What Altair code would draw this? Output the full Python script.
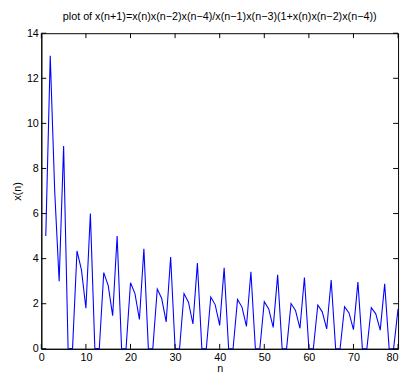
import altair as alt
import pandas as pd

n_vals = list(range(1, 81))
x_vals = [
    5, 13, 7, 3, 9, 0.026,
    0.008, 4.34, 3.50, 1.80, 6.00, 0.018,
    0.006, 3.38, 2.80, 1.47, 5.00, 0.015,
    0.005, 2.93, 2.45, 1.30, 4.44, 0.014,
    0.005, 2.65, 2.23, 1.19, 4.07, 0.013,
    0.004, 2.45, 2.07, 1.10, 3.80, 0.012,
    0.004, 2.30, 1.95, 1.04, 3.59, 0.011,
    0.004, 2.19, 1.85, 0.99, 3.42, 0.011,
    0.004, 2.09, 1.77, 0.95, 3.28, 0.010,
    0.003, 2.01, 1.70, 0.91, 3.16, 0.010,
    0.003, 1.94, 1.64, 0.88, 3.05, 0.010,
    0.003, 1.87, 1.59, 0.85, 2.96, 0.009,
    0.003, 1.82, 1.55, 0.83, 2.88, 0.009,
    0.003, 1.77,
]
x_ticks = [0, 10, 20, 30, 40, 50, 60, 70, 80]
y_ticks = [0, 2, 4, 6, 8, 10, 12, 14]

W, H = 364, 322
FONT = "Liberation Sans"

df = pd.DataFrame({"n": n_vals, "x": x_vals})
xt = pd.DataFrame({"t": x_ticks})
yt = pd.DataFrame({"t": y_ticks})

xscale = alt.Scale(domain=[0, 80], nice=False, zero=False)
yscale = alt.Scale(domain=[0, 14], nice=False, zero=False)

line = alt.Chart(df).mark_line(color="#0000FF", strokeWidth=1.1).encode(
    x=alt.X("n:Q", scale=xscale, title="n",
            axis=alt.Axis(values=x_ticks, tickSize=0, labelPadding=3, grid=False,
                          labelFlush=False, labelOverlap=False,
                          labelAlign=alt.expr("datum.value == 80 ? 'right' : 'center'"),
                          domain=True, domainColor="black", labelColor="black",
                          labelFont=FONT, labelFontSize=11, titleFont=FONT,
                          titleFontSize=11, titleFontWeight="normal", titlePadding=0,
                          titleColor="black")),
    y=alt.Y("x:Q", scale=yscale, title="x(n)",
            axis=alt.Axis(values=y_ticks, tickSize=0, labelPadding=3, grid=False,
                          labelFlush=False, labelOverlap=False,
                          domain=True, domainColor="black", labelColor="black",
                          labelFont=FONT, labelFontSize=11, titleFont=FONT,
                          titleFontSize=11, titleFontWeight="normal", titlePadding=4,
                          titleColor="black")),
)

tl = 5
xb = alt.Chart(xt).mark_rule(color="black", strokeWidth=1).encode(
    x=alt.X("t:Q", scale=xscale), y=alt.value(H), y2=alt.value(H - tl))
xtop = alt.Chart(xt).mark_rule(color="black", strokeWidth=1).encode(
    x=alt.X("t:Q", scale=xscale), y=alt.value(0), y2=alt.value(tl))
yl = alt.Chart(yt).mark_rule(color="black", strokeWidth=1).encode(
    y=alt.Y("t:Q", scale=yscale), x=alt.value(0), x2=alt.value(tl))
yr = alt.Chart(yt).mark_rule(color="black", strokeWidth=1).encode(
    y=alt.Y("t:Q", scale=yscale), x=alt.value(W), x2=alt.value(W - tl))

chart = alt.layer(line, xb, xtop, yl, yr).properties(
    width=W, height=H,
    title=alt.TitleParams(
        "plot of x(n+1)=x(n)x(n\u22122)x(n\u22124)/x(n\u22121)x(n\u22123)(1+x(n)x(n\u22122)x(n\u22124))",
        font=FONT, fontSize=11, fontWeight="normal", color="black", offset=6,
        anchor="middle"),
    autosize=alt.AutoSizeParams(type="none"),
    padding={"left": 34, "top": 22, "right": 3, "bottom": 23},
).configure_view(stroke="black", strokeWidth=1)

chart.save("out.html", embed_options={"renderer": "svg", "actions": False})
